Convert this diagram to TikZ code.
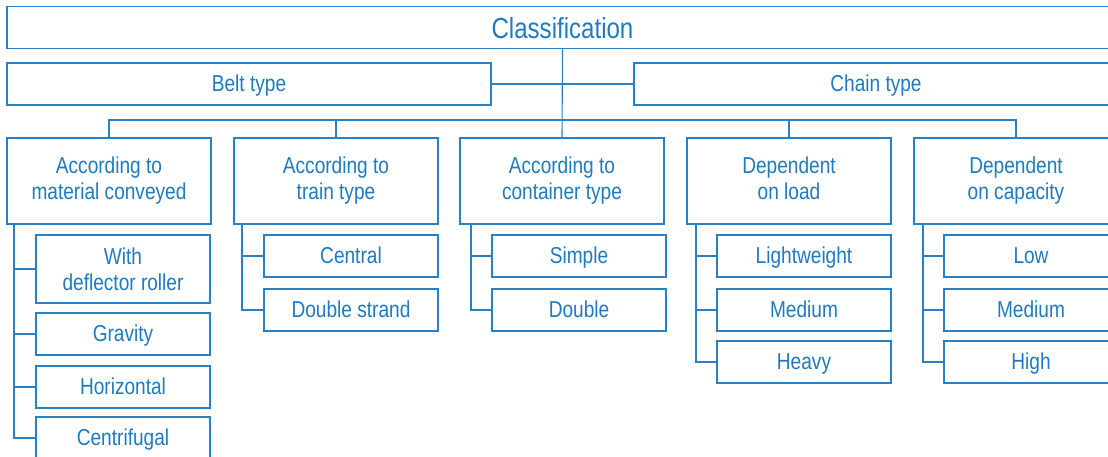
\documentclass[tikz,border=0pt]{standalone}
\usepackage{fontspec}
\setmainfont{Liberation Sans}[FakeStretch=0.83]
\definecolor{lineblue}{HTML}{2A80C4}
\definecolor{textblue}{HTML}{1F7BC0}
\tikzset{
  box/.style={draw=lineblue, line width=1.2pt, rectangle, inner sep=0pt, text=textblue,
    align=center, font=\fontsize{23}{26}\selectfont},
  onebox/.style={box, text height=16.5pt, text depth=2pt},
  cbox/.style={onebox, minimum width=174pt, minimum height=42pt},
  conn/.style={draw=lineblue, line width=1.1pt},
}
\begin{document}
\begin{tikzpicture}[x=1pt,y=-1pt]
\clip (0,0) rectangle (1108,456);
\fill[white] (0,0) rectangle (1108,456);
% level 1 and 2
\node[box, minimum width=1111pt, minimum height=42pt, text height=21pt, text depth=0pt, font=\fontsize{29}{32}\selectfont] (cls) at (562.5,27.5) {Classification};
\node[onebox, minimum width=484pt, minimum height=42pt] (belt) at (249,84) {Belt type};
\node[onebox, minimum width=484pt, minimum height=42pt] (chain) at (876,84) {Chain type};
% level 3
\node[box, minimum width=204pt, minimum height=86pt] (mat) at (109,181) {According to\\material conveyed};
\node[box, minimum width=204pt, minimum height=86pt] (train) at (336,181) {According to\\train type};
\node[box, minimum width=204pt, minimum height=86pt] (cont) at (562,181) {According to\\container type};
\node[box, minimum width=204pt, minimum height=86pt] (load) at (789,181) {Dependent\\on load\vphantom{y}};
\node[box, minimum width=204pt, minimum height=86pt] (cap) at (1016,181) {Dependent\\on capacity};
% level 4
\node[box, minimum width=174pt, minimum height=68pt] (defl) at (123,269) {With\\deflector roller};
\node[cbox] (grav) at (123,334) {Gravity};
\node[cbox] (horiz) at (123,387) {Horizontal};
\node[cbox] (centr) at (123,438) {Centrifugal};
\node[cbox] (central) at (351,256) {Central};
\node[cbox] (dstrand) at (351,310) {Double strand};
\node[cbox] (simple) at (579,256) {Simple};
\node[cbox] (double) at (579,310) {Double};
\node[cbox] (light) at (804,256) {Lightweight};
\node[cbox] (lmed) at (804,310) {Medium};
\node[cbox] (heavy) at (804,362) {Heavy};
\node[cbox] (low) at (1031,256) {Low};
\node[cbox] (cmed) at (1031,310) {Medium};
\node[cbox] (high) at (1031,362) {High};
% connectors, top
\draw[conn] (cls.south) -- (cont.north);
\draw[conn] (belt.east) -- (chain.west);
\coordinate (busL) at (109,120);
\draw[conn] (mat.north) -- (busL) -| (cap.north);
\draw[conn] (train.north) -- (train.north |- busL);
\draw[conn] (load.north) -- (load.north |- busL);
% spines
\coordinate (sp1) at (14,224);
\coordinate (sp2) at (242,224);
\coordinate (sp3) at (471,224);
\coordinate (sp4) at (696,224);
\coordinate (sp5) at (923,224);
\draw[conn] (sp1) |- (centr.west);
\draw[conn] (sp1 |- defl.west) -- (defl.west);
\draw[conn] (sp1 |- grav.west) -- (grav.west);
\draw[conn] (sp1 |- horiz.west) -- (horiz.west);
\draw[conn] (sp2) |- (dstrand.west);
\draw[conn] (sp2 |- central.west) -- (central.west);
\draw[conn] (sp3) |- (double.west);
\draw[conn] (sp3 |- simple.west) -- (simple.west);
\draw[conn] (sp4) |- (heavy.west);
\draw[conn] (sp4 |- light.west) -- (light.west);
\draw[conn] (sp4 |- lmed.west) -- (lmed.west);
\draw[conn] (sp5) |- (high.west);
\draw[conn] (sp5 |- low.west) -- (low.west);
\draw[conn] (sp5 |- cmed.west) -- (cmed.west);
\end{tikzpicture}
\end{document}
